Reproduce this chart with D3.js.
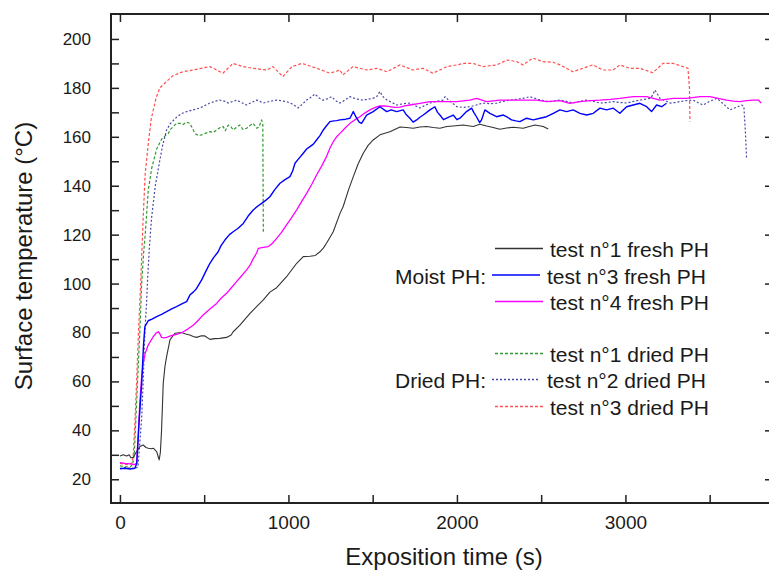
<!DOCTYPE html>
<html>
<head>
<meta charset="utf-8">
<script src="https://cdn.jsdelivr.net/npm/d3@7"></script>
<style>
  html, body { margin: 0; padding: 0; background: #fff; }
  svg { display: block; }
</style>
</head>
<body>
<svg id="chart" width="769" height="572"></svg>
<script>
// ---- data: [time (s), surface temperature (°C)] ----
const fresh1 = [[0,29.5],[20,30],[40,29.5],[55,30],[65,28.8],[79,29],[99,31.3],[119,33.4],[138,34],[155,33],[168,32.7],[185,32.5],[198,32.7],[218,31.3],[228,29],[233,27.9],[240,31],[247,40],[257,59.2],[267,66],[277,70.1],[297,77],[326,79.7],[366,80],[390,79.4],[415,79],[435,78.4],[455,78],[480,78.6],[504,78.6],[534,77.2],[563,77.5],[593,77.6],[633,78],[660,79],[672,80.3],[712,83],[772,87.8],[811,90.6],[851,93.3],[890,96.5],[930,98.3],[989,102.8],[1049,108.3],[1088,111],[1128,111.2],[1160,111.5],[1187,113],[1207,114.5],[1226,116.5],[1266,121.2],[1306,128.7],[1325,131.5],[1355,138],[1385,143.7],[1414,149],[1444,153.3],[1473,156.5],[1503,158.7],[1543,160.8],[1602,162.1],[1662,164],[1700,163.8],[1741,163.5],[1780,164],[1820,164.2],[1860,163.8],[1899,163.5],[1940,164.2],[1978,164.4],[2037,164.8],[2097,164.2],[2136,165.1],[2176,164.4],[2215,163.8],[2255,163.1],[2295,163.6],[2334,163.9],[2393,163.5],[2430,164.2],[2463,164.8],[2512,164.2],[2542,163.2]];

const fresh3 = [[0,24.3],[30,24.5],[60,24.2],[89,24.5],[100,26.5],[115,45],[129,59.2],[140,75],[148,82.4],[168,84.8],[190,85.5],[218,86.5],[250,87.5],[277,88.5],[310,89.8],[336,90.6],[370,91.8],[396,92.6],[415,95.3],[435,96.5],[455,98],[485,101.5],[514,105.6],[534,108.3],[555,110.5],[583,113],[600,115.5],[623,117.8],[650,120],[672,121.2],[700,122.5],[732,124.6],[760,127.5],[791,130.1],[815,131.5],[841,132.8],[865,134],[890,135.5],[920,138.5],[950,141],[980,142.5],[1009,143.7],[1025,146],[1039,149.2],[1060,151],[1088,153.3],[1108,155],[1128,156],[1148,157],[1167,158.7],[1187,160.5],[1207,162.8],[1226,164.5],[1246,166.2],[1270,166.5],[1286,166.6],[1306,166.9],[1340,167.2],[1365,167.6],[1385,170.3],[1400,168.2],[1420,166],[1434,165.5],[1464,168.9],[1503,170.3],[1543,172.3],[1583,170.3],[1610,171],[1642,170.3],[1681,171],[1700,169],[1721,167.6],[1740,166],[1761,166.9],[1780,168],[1800,168.9],[1840,171],[1869,172.3],[1885,170],[1899,168.9],[1920,167],[1939,167.6],[1978,168.9],[2000,167],[2018,167.6],[2057,170.3],[2087,171.7],[2100,170],[2116,168.2],[2135,165.8],[2146,166.9],[2166,171],[2196,169.6],[2235,168.2],[2275,168.9],[2300,168],[2324,166.9],[2350,166.5],[2374,166.2],[2413,167.6],[2453,166.9],[2493,167.6],[2532,168.2],[2572,169.6],[2611,171],[2651,170.3],[2690,171],[2730,169.6],[2770,168.9],[2809,169.6],[2849,171.7],[2888,171],[2928,171.7],[2967,169.6],[3007,172.3],[3046,173],[3086,173.7],[3126,172.3],[3155,170.3],[3185,173],[3215,172.3],[3244,173.7]];

const fresh4 = [[0,26.8],[30,26.5],[60,26.3],[85,26],[99,26.5],[110,40],[119,52.4],[128,61],[138,67.4],[150,71.5],[168,74.9],[198,78.3],[215,79.8],[227,80.3],[237,79.5],[247,78],[262,77.8],[277,78],[300,78.6],[326,79],[350,79.5],[376,80.3],[405,81.5],[435,83],[465,85],[494,87.2],[534,89.6],[574,91.9],[600,94],[633,96],[660,98.2],[692,100.8],[720,103],[752,105.6],[772,107.5],[790,110],[811,112.5],[821,114.4],[850,114.8],[880,115.1],[905,116.5],[930,118.5],[960,121],[989,124],[1019,127],[1049,130.1],[1078,133.5],[1108,136.9],[1138,140.5],[1167,144.4],[1197,148],[1226,151.9],[1246,155.3],[1266,158],[1286,160],[1306,161.4],[1335,163.5],[1365,165.5],[1395,167],[1424,168.2],[1455,169.8],[1484,171],[1515,172],[1543,172.6],[1570,172.6],[1602,172.3],[1630,172],[1662,172.1],[1690,172.6],[1721,173],[1780,173.7],[1840,174.4],[1919,174.4],[1998,174.4],[2077,175],[2117,175.7],[2176,174.4],[2255,175],[2334,175],[2413,175],[2473,175],[2532,174.4],[2611,174.8],[2670,173.7],[2730,174.4],[2790,174.8],[2849,175],[2910,175.3],[2967,175.7],[3046,176.4],[3126,176.4],[3205,175],[3284,175.7],[3363,175.7],[3442,176.4],[3501,176.4],[3551,175.7],[3600,175],[3640,174.6],[3680,174.4],[3720,174.8],[3759,175],[3790,175],[3805,173.8]];

const dried1 = [[0,25.5],[30,25.2],[60,25],[75,26],[85,30],[95,45],[105,60.6],[118,80],[129,100],[140,112],[150,120],[168,138],[188,147],[218,155],[247,159],[270,160.5],[287,161.4],[300,163],[316,164.2],[336,165.5],[356,165.5],[375,165],[395,166],[415,165.5],[430,163.5],[445,161.4],[465,160.5],[485,160.8],[510,161.5],[534,162.1],[555,161.8],[574,162.8],[595,163.8],[613,164.2],[625,162.5],[643,164.8],[660,164],[672,162.8],[690,163.8],[712,164.8],[730,163],[752,163.5],[770,164.5],[791,165.5],[811,163.5],[825,164],[841,166.9],[848,165],[851,121.2]];

const dried2 = [[0,24.5],[30,24.8],[60,24.5],[90,24.5],[107,25],[118,35],[129,45],[138,60],[145,75],[152,85],[158,92],[164,101.5],[175,115],[188,127],[210,140],[237,150.5],[255,157],[277,162.8],[300,165.5],[336,168],[366,169.5],[396,170.3],[435,171],[475,171.8],[534,173.8],[563,174.5],[593,175],[623,174.5],[643,173.8],[670,174.5],[693,175],[720,174],[752,173],[780,174],[811,175],[830,174.5],[850,173.8],[890,174.5],[930,175],[989,174.4],[1020,173.5],[1058,171.8],[1085,173.5],[1108,175],[1130,176],[1157,177.5],[1180,176],[1205,175],[1230,175.5],[1256,176.4],[1280,174.8],[1306,173.8],[1335,175],[1365,176.4],[1400,175.5],[1442,175],[1501,175.7],[1525,176.5],[1543,178.5],[1560,176.5],[1585,175],[1615,174],[1644,173],[1680,173.5],[1721,173.8],[1750,172.8],[1780,171.8],[1810,172.8],[1840,173.8],[1880,174.5],[1917,175],[1930,176.4],[1950,175],[2000,172.3],[2040,172],[2077,172.3],[2115,173],[2154,173.8],[2200,173.5],[2237,173.8],[2275,174.5],[2315,175],[2350,175.3],[2392,175.7],[2433,176.4],[2493,175],[2552,174.4],[2611,175],[2650,174.5],[2688,173.8],[2730,174.5],[2771,175],[2810,174.5],[2849,173.8],[2890,174],[2926,174.4],[2970,174],[3009,173.8],[3050,174.5],[3086,175],[3145,175.7],[3162,177],[3175,179.1],[3190,177.5],[3205,175.7],[3235,174.8],[3264,173.8],[3295,174],[3323,174.4],[3360,174.8],[3401,175],[3430,174],[3460,173],[3500,174.5],[3543,175.7],[3580,173.5],[3620,171],[3655,172],[3691,173],[3703,172.3],[3712,162],[3719,151.2]];

const dried3 = [[0,26.5],[40,26],[70,26.5],[79,30],[90,45],[99,60],[110,80],[123,100],[138,127],[150,145],[168,157],[185,167],[198,171],[215,176],[237,180],[267,182],[315,185],[374,186.6],[433,187.3],[534,188.7],[574,187.3],[611,186],[671,190],[730,188.7],[789,188],[872,187.3],[908,188.7],[967,184.6],[1021,188.7],[1080,190],[1169,188],[1246,186],[1306,187.3],[1323,185.3],[1383,188.7],[1466,187.3],[1525,188],[1585,186.6],[1662,189.4],[1739,187.3],[1798,188],[1858,186],[1941,188.7],[2000,189.4],[2036,190],[2095,190],[2154,188.7],[2237,189.4],[2297,191.4],[2356,190.7],[2392,189.4],[2451,192.2],[2510,190.7],[2570,190.5],[2611,189.4],[2688,186.6],[2748,188],[2807,189.4],[2866,187.3],[2926,187.3],[2967,189.4],[3027,188],[3086,188],[3163,186.2],[3223,190],[3282,190],[3341,188.7],[3371,188],[3380,180],[3383,166.2]];

// legend order (top to bottom) and labels
const legendKeys = ['fresh1', 'fresh3', 'fresh4', 'dried1', 'dried2', 'dried3'];
const legendLabels = ['test n°1 fresh PH', 'test n°3 fresh PH', 'test n°4 fresh PH',
                      'test n°1 dried PH', 'test n°2 dried PH', 'test n°3 dried PH'];
const groupLabels = ['Moist PH:', 'Dried PH:'];

const xTicks = [0, 500, 1000, 1500, 2000, 2500, 3000, 3500];
const xLabels = [0, 1000, 2000, 3000];
const yTicks = d3.range(20, 201, 10);
const yLabels = d3.range(20, 201, 20);

// styles per series
const styles = {
  dried1: { color: '#2f9a2f', width: 1.2, dash: '3,2' },
  dried2: { color: '#4848a8', width: 1.2, dash: '2,2' },
  dried3: { color: '#ff4f4f', width: 1.2, dash: '3,2' },
  fresh1: { color: '#333333', width: 1.1, dash: 'none' },
  fresh4: { color: '#ff00ff', width: 1.3, dash: 'none' },
  fresh3: { color: '#0000ff', width: 1.4, dash: 'none' },
};
const seriesData = { fresh1, fresh3, fresh4, dried1, dried2, dried3 };
const drawOrder = ['dried1', 'dried2', 'dried3', 'fresh1', 'fresh4', 'fresh3'];

const svg = d3.select('#chart');
const pLeft = 111, pRight = 770, pTop = 14, pBottom = 503;
const font = "'Liberation Sans', Arial, sans-serif";

const x = d3.scaleLinear().domain([-53, 3858]).range([pLeft, pRight]);
const y = d3.scaleLinear().domain([10.3, 210.2]).range([pBottom, pTop]);

svg.append('defs').append('clipPath').attr('id', 'plot')
  .append('rect').attr('x', pLeft).attr('y', pTop)
  .attr('width', pRight - pLeft).attr('height', pBottom - pTop);

/****************** curves ******************/
const lineGen = d3.line().x(d => x(d[0])).y(d => y(d[1]));
svg.append('g').attr('clip-path', 'url(#plot)')
  .selectAll('path').data(drawOrder).join('path')
  .attr('d', k => lineGen(seriesData[k]))
  .attr('fill', 'none')
  .attr('stroke', k => styles[k].color)
  .attr('stroke-width', k => styles[k].width)
  .attr('stroke-dasharray', k => styles[k].dash)
  .attr('stroke-linejoin', 'round');

/****************** axes ******************/
const yAxis = svg.append('g').attr('transform', `translate(${pLeft},0)`)
  .call(d3.axisLeft(y).tickValues(yTicks).tickSize(-8).tickPadding(20)
    .tickFormat(v => yLabels.includes(v) ? v : ''));
yAxis.selectAll('text')
  .attr('font-size', '17px')
  .attr('font-family', "'Liberation Sans Narrow', 'Arial Narrow', " + font)
  .attr('fill', '#1a1a1a');

const xAxis = svg.append('g').attr('transform', `translate(0,${pBottom})`)
  .call(d3.axisBottom(x).tickValues(xTicks).tickSize(-8).tickPadding(13)
    .tickFormat(v => xLabels.includes(v) ? v : ''));
xAxis.selectAll('text')
  .attr('font-size', '19px')
  .attr('font-family', font)
  .attr('fill', '#1a1a1a');

svg.append('g').attr('transform', `translate(0,${pTop})`)
  .call(d3.axisTop(x).tickValues(xTicks).tickSize(-8).tickFormat(''));
svg.append('g').attr('transform', `translate(${pRight},0)`)
  .call(d3.axisRight(y).tickValues(yLabels).tickSize(-5).tickFormat(''));

svg.selectAll('.domain').remove();
svg.selectAll('.tick line').attr('stroke', '#222').attr('stroke-width', 1.5);

svg.append('rect')
  .attr('x', pLeft).attr('y', pTop)
  .attr('width', pRight - pLeft).attr('height', pBottom - pTop)
  .attr('fill', 'none').attr('stroke', '#222').attr('stroke-width', 2);

/****************** titles ******************/
svg.append('text')
  .text('Exposition time (s)')
  .attr('x', 444).attr('y', 565)
  .attr('text-anchor', 'middle')
  .attr('font-size', '24px')
  .attr('font-family', font)
  .attr('fill', '#1a1a1a');

svg.append('text')
  .text('Surface temperature (°C)')
  .attr('transform', 'translate(32,256) rotate(-90)')
  .attr('text-anchor', 'middle')
  .attr('font-size', '24px')
  .attr('font-family', font)
  .attr('fill', '#1a1a1a');

/****************** legend ******************/
const rowY = [257, 283.5, 310, 362, 388, 415];
const legend = svg.append('g').attr('class', 'legend');
legendKeys.forEach((k, i) => {
  const shift = (i === 1 || i === 4) ? -3 : 0;
  legend.append('path')
    .attr('d', `M${495 + shift},${rowY[i] - 8.5}H${543 + shift}`)
    .attr('fill', 'none')
    .attr('stroke', styles[k].color)
    .attr('stroke-width', 1.3)
    .attr('stroke-dasharray', styles[k].dash);
  legend.append('text')
    .text(legendLabels[i])
    .attr('x', 550 + shift).attr('y', rowY[i])
    .attr('font-size', '21px')
    .attr('font-family', font)
    .attr('fill', '#1a1a1a');
});
groupLabels.forEach((label, i) => {
  legend.append('text')
    .text(label)
    .attr('x', 486).attr('y', rowY[i * 3 + 1])
    .attr('text-anchor', 'end')
    .attr('font-size', '21px')
    .attr('font-family', font)
    .attr('fill', '#1a1a1a');
});
</script>
</body>
</html>
